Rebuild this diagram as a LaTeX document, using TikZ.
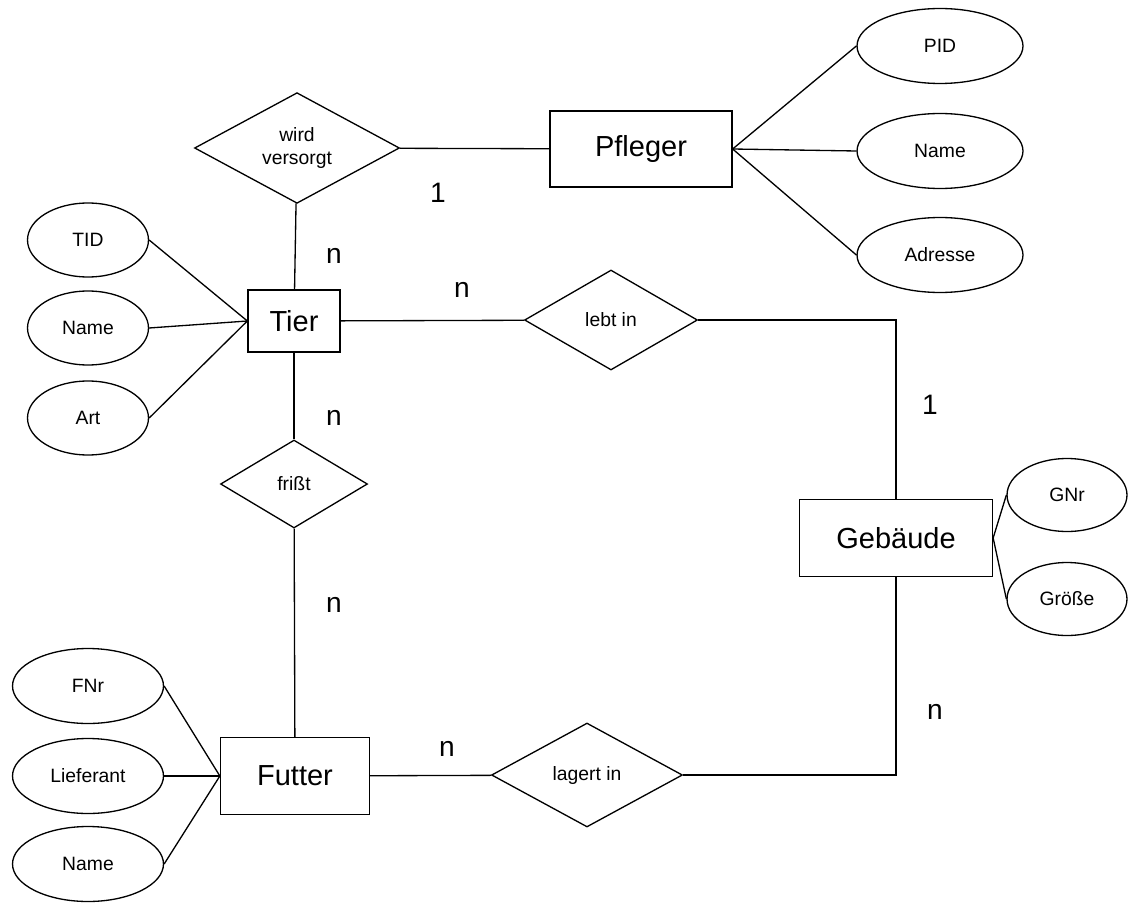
\documentclass[tikz,border=0pt]{standalone}
\usepackage{fontspec}
\setmainfont{Liberation Sans}
\usetikzlibrary{shapes.geometric}
\tikzset{every picture/.style={line width=0.75pt}}

\begin{document}
\begin{tikzpicture}[x=0.02cm,y=-0.02cm]
\useasboundingbox (0,0) rectangle (1128,902);

\begin{scope}[every node/.style={rectangle,draw,inner sep=0pt,font=\fontsize{16.5}{19}\selectfont}]
\node[minimum width=3.64cm,minimum height=1.52cm] (Pfleger) at (641,149) {Pfleger};
\node[minimum width=1.84cm,minimum height=1.24cm] (Tier) at (294,321) {Tier};
\node[minimum width=2.98cm,minimum height=1.54cm] (Futter) at (295,776) {Futter};
\node[minimum width=3.86cm,minimum height=1.54cm] (Gebaeude) at (896,538) {Gebäude};
\end{scope}

\begin{scope}[every node/.style={diamond,draw,inner sep=0pt,align=center,font=\fontsize{11}{13}\selectfont}]
\node[minimum width=4.1cm,minimum height=2.08cm] (versorgt) at (297,148) {wird\\versorgt};
\node[minimum width=3.46cm,minimum height=2.0cm] (lebt) at (611,320) {lebt in};
\node[minimum width=2.94cm,minimum height=1.76cm] (frisst) at (294,484) {frißt};
\node[minimum width=3.82cm,minimum height=2.08cm] (lagert) at (587,775) {lagert in};
\end{scope}

\begin{scope}[every node/.style={ellipse,draw,inner sep=0pt,font=\fontsize{11}{13}\selectfont}]
\node[minimum width=3.32cm,minimum height=1.5cm] (PID) at (940,46) {PID};
\node[minimum width=3.32cm,minimum height=1.5cm] (PName) at (940,151) {Name};
\node[minimum width=3.32cm,minimum height=1.5cm] (Adresse) at (940,255) {Adresse};
\node[minimum width=2.42cm,minimum height=1.48cm] (TID) at (88,240) {TID};
\node[minimum width=2.42cm,minimum height=1.48cm] (TName) at (88,328) {Name};
\node[minimum width=2.42cm,minimum height=1.48cm] (Art) at (88,418) {Art};
\node[minimum width=3.02cm,minimum height=1.5cm] (FNr) at (88,686) {FNr};
\node[minimum width=3.02cm,minimum height=1.5cm] (Lieferant) at (88,776) {Lieferant};
\node[minimum width=3.02cm,minimum height=1.5cm] (FName) at (88,864) {Name};
\node[minimum width=2.4cm,minimum height=1.46cm] (GNr) at (1067,495) {GNr};
\node[minimum width=2.4cm,minimum height=1.46cm] (Groesse) at (1067,599) {Größe};
\end{scope}

\begin{scope}[every node/.style={inner sep=0pt,font=\fontsize{16}{19}\selectfont}]
\node (c1) at (438,193) {1};
\node (c2) at (334,256) {n};
\node (c3) at (462,290) {n};
\node (c4) at (334,418) {n};
\node (c5) at (930,405) {1};
\node (c6) at (334,605) {n};
\node (c7) at (447,749) {n};
\node (c8) at (935,712) {n};
\end{scope}

\begin{scope}[every edge/.style={draw}]
    \path (versorgt) edge (Pfleger);
    \path (versorgt) edge (Tier);
    \path (Tier) edge (lebt);
    \path (Tier) edge (frisst);
    \path (frisst) edge (Futter);
    \path (Futter) edge (lagert);
    \path (Pfleger.east) edge (PID.west) edge (PName.west) edge (Adresse.west);
    \path (Tier.west) edge (TID.east) edge (TName.east) edge (Art.east);
    \path (Futter.west) edge (FNr.east) edge (Lieferant.east) edge (FName.east);
    \path (Gebaeude.east) edge (GNr.west) edge (Groesse.west);
\end{scope}
\draw (lebt.east) -| (Gebaeude.north);
\draw (lagert.east) -| (Gebaeude.south);
\end{tikzpicture}
\end{document}
